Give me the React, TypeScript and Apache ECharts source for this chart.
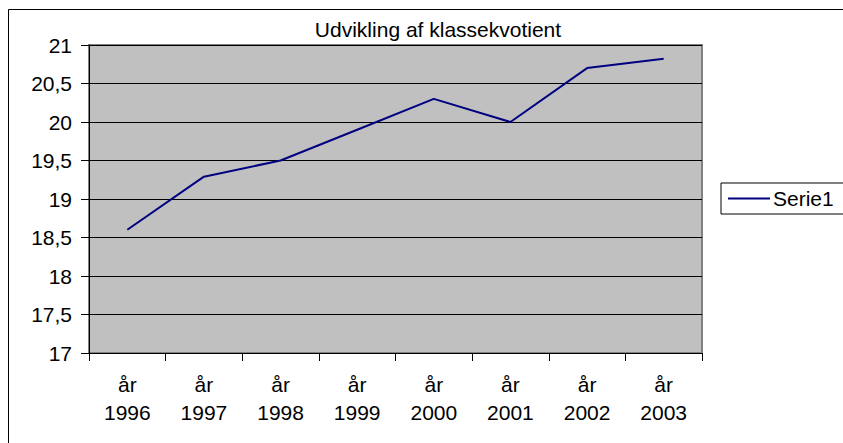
import React, { useEffect, useRef } from "react";
import * as echarts from "echarts";

const title = "Udvikling af klassekvotient";
const categories = ["år\n1996", "år\n1997", "år\n1998", "år\n1999", "år\n2000", "år\n2001", "år\n2002", "år\n2003"];
const seriesName = "Serie1";
const values = [18.6, 19.29, 19.5, 19.9, 20.3, 20.0, 20.7, 20.82];

export default function App() {
  const ref = useRef<HTMLDivElement>(null);
  useEffect(() => {
    if (!ref.current) return;
    const chart = echarts.init(ref.current, null, { renderer: "svg" });
    const font = "'Liberation Sans', Arial, sans-serif";
    chart.setOption({
      animation: false,
      backgroundColor: "#ffffff",
      textStyle: { fontFamily: font },
      title: {
        text: title,
        left: 433,
        top: 14,
        textAlign: "center",
        textStyle: { fontSize: 21, fontWeight: "normal", color: "#000", fontFamily: font },
      },
      graphic: [
        {
          type: "rect",
          shape: { x: 8.5, y: 9.5, width: 900, height: 500 },
          style: { fill: "none", stroke: "#000", lineWidth: 1 },
          silent: true,
        },
      ],
      legend: {
        left: 721,
        top: 183,
        orient: "vertical",
        data: [seriesName],
        icon: "rect",
        itemWidth: 42,
        itemHeight: 2,
        itemGap: 0,
        padding: [5, 30, 5, 7],
        borderColor: "#000",
        borderWidth: 1,
        backgroundColor: "#fff",
        textStyle: { fontSize: 21, color: "#000", fontFamily: font, padding: [0, 0, 0, -2] },
      },
      grid: {
        left: 89,
        top: 45,
        width: 613,
        height: 308,
        show: true,
        backgroundColor: "#c0c0c0",
        borderColor: "#808080",
        borderWidth: 2,
      },
      xAxis: {
        type: "category",
        data: categories,
        boundaryGap: true,
        axisLine: { show: true, lineStyle: { color: "#000", width: 1 } },
        axisTick: { show: true, length: 8, lineStyle: { color: "#000" }, alignWithLabel: false },
        axisLabel: {
          fontSize: 21,
          color: "#000",
          lineHeight: 28,
          margin: 17,
          fontFamily: font,
        },
        splitLine: { show: false },
      },
      yAxis: {
        type: "value",
        min: 17,
        max: 21,
        interval: 0.5,
        axisLine: { show: true, lineStyle: { color: "#000", width: 1 } },
        axisTick: { show: true, length: 8, lineStyle: { color: "#000" } },
        axisLabel: {
          fontSize: 21,
          color: "#000",
          margin: 17,
          fontFamily: font,
          formatter: (v: number) => String(v).replace(".", ","),
        },
        splitLine: { show: true, lineStyle: { color: "#000", width: 1 } },
      },
      series: [
        {
          name: seriesName,
          type: "line",
          data: values,
          symbol: "none",
          lineStyle: { color: "#000080", width: 2 },
          itemStyle: { color: "#000080" },
        },
      ],
    });
    return () => chart.dispose();
  }, []);
  return (
    <div
      ref={ref}
      style={{ position: "fixed", left: 0, top: 0, width: 843, height: 443 }}
    />
  );
}
